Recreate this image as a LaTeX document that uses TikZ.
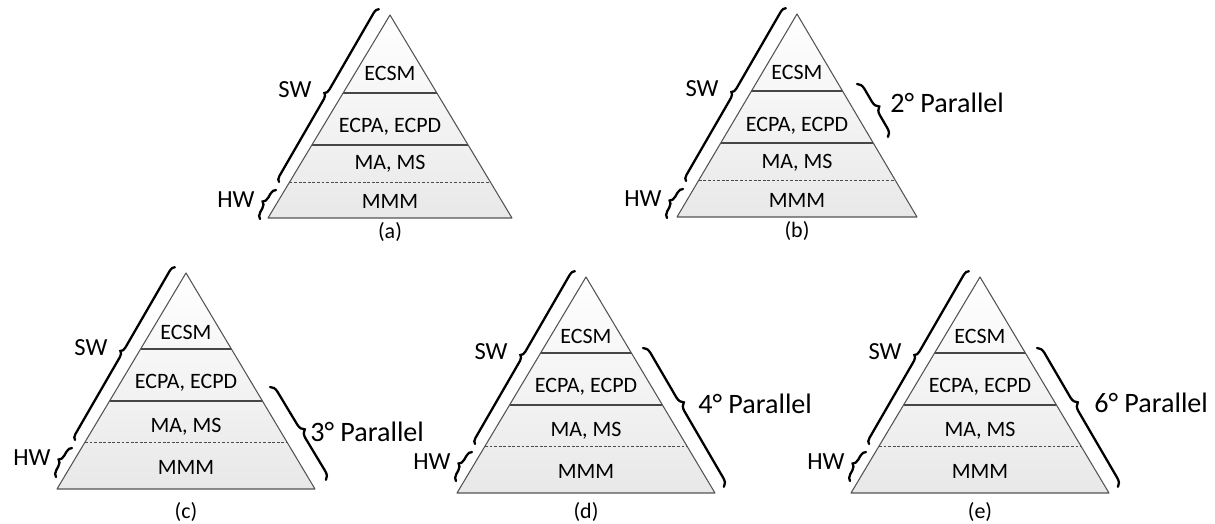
\documentclass[tikz,border=0pt]{standalone}
\usepackage{fontspec}
\setmainfont{Carlito}
\usetikzlibrary{decorations.pathreplacing}

\begin{document}
\begin{tikzpicture}[x=0.02cm, y=-0.02cm,
    pyrfill/.style={top color=white, bottom color=gray!18},
    pyredge/.style={draw=gray!65!black, line width=0.6pt, line join=round},
    sepline/.style={draw=gray!55!black, line width=0.8pt},
    hwline/.style={draw=gray!60!black, line width=0.5pt, dash pattern=on 1.6pt off 1pt},
    layer/.style={font=\fontsize{12.5}{14}\selectfont, inner sep=0pt},
    side/.style={font=\fontsize{14}{16}\selectfont, inner sep=0pt},
    par/.style={font=\fontsize{16}{18}\selectfont, inner sep=0pt, anchor=west},
    curly/.style={decorate, decoration={brace, amplitude=#1}, line width=1.3pt, line cap=round},
    curly/.default=3pt]
  % Frame
  \useasboundingbox (0,0) rectangle (1215,524);
  % Pyramids: name/apex x/apex y/height/half width/lines/texts/caption y
  \foreach \p/\ax/\ay/\h/\w/\la/\lb/\lc/\ta/\tb/\tc/\td/\cy in {
      a/390/15/203/122/78/130/167/58/112/149/186/232,
      b/797/14/203/120/77/129/166/58/112/149/186/231,
      c/186/273/216/129/76/128/169/59/110/154/194/512,
      d/586/277/216/129/76/128/169/59/110/154/194/512,
      e/980/277/216/129/76/128/169/59/110/154/194/512} {
    \shade[pyrfill] (\ax,\ay) -- (\ax-\w,\ay+\h) -- (\ax+\w,\ay+\h) -- cycle;
    \draw[sepline] (\ax-\w/\h*\la,\ay+\la) -- (\ax+\w/\h*\la,\ay+\la);
    \draw[sepline] (\ax-\w/\h*\lb,\ay+\lb) -- (\ax+\w/\h*\lb,\ay+\lb);
    \draw[hwline] (\ax-\w/\h*\lc,\ay+\lc) -- (\ax+\w/\h*\lc,\ay+\lc);
    \draw[pyredge] (\ax,\ay) -- (\ax-\w,\ay+\h) -- (\ax+\w,\ay+\h) -- cycle;
    % Layer texts
    \node[layer] (\p-ecsm) at (\ax,\ay+\ta) {ECSM};
    \node[layer] (\p-ecp) at (\ax,\ay+\tb) {ECPA, ECPD};
    \node[layer] (\p-mams) at (\ax,\ay+\tc) {MA, MS};
    \node[layer] (\p-mmm) at (\ax,\ay+\td) {MMM};
    \node[layer] (\p-cap) at (\ax,\cy) {(\p)};
    % SW and HW braces
    \coordinate (\p-swb) at (\ax-111,\ay+167);
    \coordinate (\p-swt) at (\ax-11,\ay-6);
    \draw[curly] (\p-swb) -- (\p-swt);
    \node[side] (\p-sw) at (\ax-95,\ay+75) {SW};
    \coordinate (\p-hwb) at (\ax-130,\ay+204);
    \coordinate (\p-hwt) at (\ax-114,\ay+175);
    \draw[curly=3.5pt] (\p-hwb) -- (\p-hwt);
    \node[side] (\p-hw) at (\ax-154,\ay+185) {HW};
  }
  % Parallel braces
  \coordinate (b-pt) at (857,84);
  \coordinate (b-pb) at (888,137);
  \draw[curly=4.5pt] (b-pt) -- (b-pb);
  \node[par] (b-par) at (890,103) {2° Parallel};
  \coordinate (c-pt) at (270,387);
  \coordinate (c-pb) at (326,480);
  \draw[curly=4.5pt] (c-pt) -- (c-pb);
  \node[par] (c-par) at (310,432) {3° Parallel};
  \coordinate (d-pt) at (643,348);
  \coordinate (d-pb) at (724,487);
  \draw[curly=4.5pt, decoration={aspect=0.42}] (d-pt) -- (d-pb);
  \node[par] (d-par) at (698,404) {4° Parallel};
  \coordinate (e-pt) at (1037,348);
  \coordinate (e-pb) at (1118,487);
  \draw[curly=4.5pt, decoration={aspect=0.42}] (e-pt) -- (e-pb);
  \node[par] (e-par) at (1094,403) {6° Parallel};
\end{tikzpicture}
\end{document}
